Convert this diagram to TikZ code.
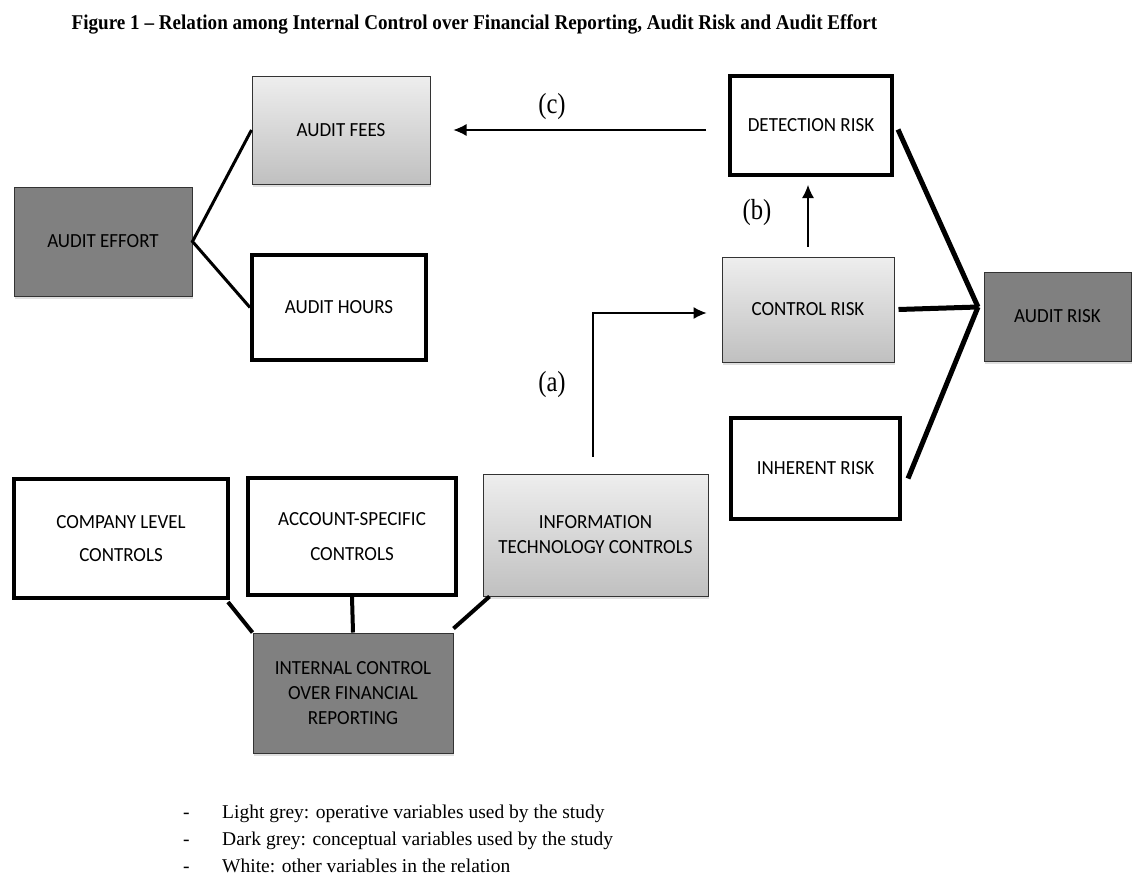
\documentclass[tikz,border=0pt]{standalone}
\usepackage{fontspec}
\setmainfont{Liberation Serif}
\newfontfamily\boxfont{Carlito}[FakeStretch=0.95]
\newfontfamily\titlefont{Liberation Serif}[FakeStretch=0.91]
\newfontfamily\labelfont{Liberation Serif}[FakeStretch=0.85]
\usepackage{tikz}
\usetikzlibrary{
  arrows.meta,
  calc,
  positioning,
  shadows
}
\definecolor{boxdark}{RGB}{128,128,128}
\definecolor{boxtop}{RGB}{238,238,238}
\definecolor{boxbot}{RGB}{192,192,192}

\tikzset{
  varbox/.style={rectangle, align=center, inner sep=2pt,
    font=\boxfont\fontsize{20}{25}\selectfont},
  lightbox/.style={varbox, draw=black!80, line width=1pt,
    top color=boxtop, bottom color=boxbot,
    drop shadow={opacity=0.25, shadow xshift=1pt, shadow yshift=-3pt}},
  darkbox/.style={varbox, draw=black!80, line width=1pt, fill=boxdark,
    drop shadow={opacity=0.25, shadow xshift=1pt, shadow yshift=-3pt}},
  whitebox/.style={varbox, draw=black, line width=4pt, fill=white},
  link/.style={draw=black, line width=#1},
  arr/.style={draw=black, line width=1.2pt, -{Latex[length=13pt,width=12pt]}},
  lbl/.style={font=\labelfont\fontsize{29}{29}\selectfont},
  legend/.style={anchor=base west, inner sep=0pt, font=\fontsize{19.5}{22}\selectfont}
}

\begin{document}
\begin{tikzpicture}[x=1pt, y=-1pt]
  \useasboundingbox (0,0) rectangle (1132,875);

  % title
  \node[anchor=base, font=\titlefont\bfseries\fontsize{21}{24}\selectfont] (title) at (474.5,30)
    {Figure 1 \textendash{} Relation among Internal Control over Financial Reporting, Audit Risk and Audit Effort};

  % audit effort side
  \node[darkbox, minimum width=178pt, minimum height=109pt] (effort) at (103,241.5) {AUDIT EFFORT};
  \node[lightbox, minimum width=178pt, minimum height=108pt] (fees) at (341,130) {AUDIT FEES};
  \node[whitebox, minimum width=174pt, minimum height=105pt] (hours) at (339,307.5) {AUDIT HOURS};

  \draw[link=3pt] (fees.west) -- (effort.east) -- (hours.west);

  % audit risk side
  \node[whitebox, minimum width=162pt, minimum height=99pt] (detection) at (811,125.5) {DETECTION RISK};
  \node[lightbox, minimum width=172pt, minimum height=105pt] (control) at (808,309.5) {CONTROL RISK};
  \node[whitebox, minimum width=169pt, minimum height=101pt] (inherent) at (815.5,468.5) {INHERENT RISK};
  \node[darkbox, minimum width=147pt, minimum height=89pt] (auditrisk) at (1057.5,316.5) {AUDIT RISK};

  \coordinate (meet) at (978,307);
  \draw[link=5pt] ([shift={(4,4)}]detection.east) -- (meet);
  \draw[link=5pt] ([xshift=4pt]control.east) -- (meet);
  \draw[link=5pt] ([shift={(6,10)}]inherent.east) -- (meet);

  % internal control side
  \node[whitebox, minimum width=214pt, minimum height=119pt] (company) at (121,538.5)
    {COMPANY LEVEL\\[8pt]CONTROLS};
  \node[whitebox, minimum width=208pt, minimum height=117pt] (account) at (352,536.5)
    {ACCOUNT-SPECIFIC\\[10pt]CONTROLS};
  \node[lightbox, minimum width=225pt, minimum height=122pt] (itc) at (595.5,535)
    {INFORMATION\\TECHNOLOGY CONTROLS};
  \node[darkbox, minimum width=200pt, minimum height=120pt] (icfr) at (353,693)
    {INTERNAL CONTROL\\OVER FINANCIAL\\REPORTING};

  \draw[link=4pt] ([shift={(-2,2)}]company.south east) -- (icfr.north west);
  \draw[link=4pt] (account.south) -- (icfr.north);
  \draw[link=4pt] ([xshift=7pt]itc.south west) -- ([yshift=4pt]icfr.north east);

  % relations
  \draw[arr] ([xshift=-22pt]detection.west |- fees.east) -- ([xshift=23pt]fees.east);
  \node[lbl] (labc) at (552,107) {(c)};
  \draw[arr, shorten <=10pt, shorten >=8pt] (control.north) -- (control.north |- detection.south);
  \node[lbl] (labb) at (757,213) {(b)};
  \draw[arr, shorten <=17pt, shorten >=15pt] ([xshift=-2.5pt]itc.north) |- ([yshift=-3.5pt]control.west);
  \node[lbl] (laba) at (552,385) {(a)};

  % legend
  \foreach \ypos/\txt in {818/Light grey: operative variables used by the study,
                          845/Dark grey: conceptual variables used by the study,
                          872/White: other variables in the relation} {
    \node[legend] at (183,\ypos) {-};
    \node[legend] at (222,\ypos) {\txt};
  }
\end{tikzpicture}
\end{document}
